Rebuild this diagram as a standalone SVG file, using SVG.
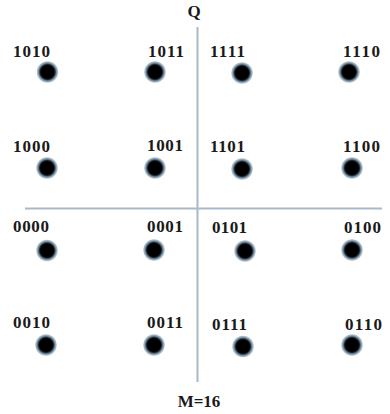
<svg xmlns="http://www.w3.org/2000/svg" width="390" height="414" viewBox="0 0 390 414">
<style>
.lbl{font-family:"Liberation Serif","Times New Roman",serif;font-weight:bold;font-size:17px;fill:#1a1a1a}
.ax{stroke:#a9b9c7;stroke-width:2;fill:none}
.dot{fill:url(#g)}
</style>
<defs>
<radialGradient id="g">
<stop offset="0" stop-color="#000"/>
<stop offset="0.56" stop-color="#000"/>
<stop offset="0.66" stop-color="#1f2c36"/>
<stop offset="0.78" stop-color="#7890a3"/>
<stop offset="0.9" stop-color="#b3c4d1"/>
<stop offset="1" stop-color="#fff" stop-opacity="0"/>
</radialGradient>
</defs>
<rect width="390" height="414" fill="#fff"/>
<g id="axes">
<line class="ax" x1="197.5" y1="27" x2="197.5" y2="382"/>
<line class="ax" x1="25" y1="208.5" x2="382" y2="208.5"/>
</g>
<text class="lbl" x="194" y="17" text-anchor="middle" font-size="14">Q</text>
<text class="lbl" x="199" y="407" text-anchor="middle" font-size="18">M=16</text>
<g id="p1010"><circle class="dot" cx="47.5" cy="72" r="11.5"/><text class="lbl" x="13" y="57" textLength="37">1010</text></g>
<g id="p1011"><circle class="dot" cx="155" cy="72" r="11.5"/><text class="lbl" x="148" y="57" textLength="36">1011</text></g>
<g id="p1111"><circle class="dot" cx="242" cy="73" r="11.5"/><text class="lbl" x="210" y="57" textLength="35">1111</text></g>
<g id="p1110"><circle class="dot" cx="349" cy="72" r="11.5"/><text class="lbl" x="343" y="57" textLength="37">1110</text></g>
<g id="p1000"><circle class="dot" cx="47" cy="168" r="11.5"/><text class="lbl" x="13" y="152" textLength="37">1000</text></g>
<g id="p1001"><circle class="dot" cx="155" cy="168" r="11.5"/><text class="lbl" x="147" y="151" textLength="36">1001</text></g>
<g id="p1101"><circle class="dot" cx="242" cy="169" r="11.5"/><text class="lbl" x="210" y="152" textLength="35">1101</text></g>
<g id="p1100"><circle class="dot" cx="352" cy="168" r="11.5"/><text class="lbl" x="343" y="152" textLength="37">1100</text></g>
<g id="p0000"><circle class="dot" cx="47" cy="250.5" r="11.5"/><text class="lbl" x="13" y="232" textLength="36">0000</text></g>
<g id="p0001"><circle class="dot" cx="154" cy="250" r="11.5"/><text class="lbl" x="147" y="232" textLength="36">0001</text></g>
<g id="p0101"><circle class="dot" cx="245" cy="251" r="11.5"/><text class="lbl" x="212" y="233" textLength="35">0101</text></g>
<g id="p0100"><circle class="dot" cx="352" cy="250" r="11.5"/><text class="lbl" x="344" y="233" textLength="37">0100</text></g>
<g id="p0010"><circle class="dot" cx="46" cy="345" r="11.5"/><text class="lbl" x="13" y="328" textLength="37">0010</text></g>
<g id="p0011"><circle class="dot" cx="154" cy="345" r="11.5"/><text class="lbl" x="147" y="328" textLength="36">0011</text></g>
<g id="p0111"><circle class="dot" cx="243" cy="346.5" r="11.5"/><text class="lbl" x="212" y="330" textLength="35">0111</text></g>
<g id="p0110"><circle class="dot" cx="352" cy="345" r="11.5"/><text class="lbl" x="345" y="330" textLength="37">0110</text></g>
</svg>
